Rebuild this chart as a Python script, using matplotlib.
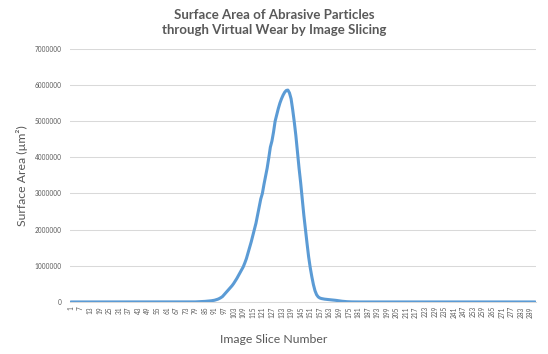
import matplotlib.pyplot as plt
import numpy as np

plt.rcParams['font.family'] = ['Lato', 'DejaVu Sans']

# slice numbers 1..292, surface area (um^2)
n_slices = 292
slices = np.arange(1, n_slices + 1)

# non-zero part of the curve, slices 79..178 (values in thousands of um^2)
first_nonzero = 79
peak_values_k = [
    2, 4, 6, 8, 10, 13, 16, 20, 24, 28,
    33, 40, 48, 60, 75, 95, 120, 150, 200, 250,
    300, 350, 400, 450, 510, 580, 650, 730, 810, 890,
    970, 1080, 1200, 1350, 1500, 1660, 1830, 2000, 2180, 2400,
    2620, 2850, 3000, 3250, 3480, 3700, 3980, 4280, 4450, 4700,
    5000, 5180, 5350, 5500, 5620, 5720, 5800, 5850, 5860, 5780,
    5620, 5320, 4980, 4600, 4150, 3700, 3300, 2850, 2400, 2000,
    1620, 1250, 950, 700, 480, 310, 200, 140, 110, 95,
    85, 78, 72, 68, 64, 60, 55, 50, 45, 38,
    32, 26, 20, 15, 11, 8, 5, 3, 2, 1,
]
area = ([0] * (first_nonzero - 1)
        + [v * 1000 for v in peak_values_k]
        + [0] * (n_slices - (first_nonzero - 1) - len(peak_values_k)))
area = np.array(area)

tick_slices = list(range(1, 290, 6))
y_ticks = [0, 1000000, 2000000, 3000000, 4000000, 5000000, 6000000, 7000000]

TEXT = '#595959'

fig = plt.figure(figsize=(5.48, 3.54), dpi=100)
ax = fig.add_axes([0.128, 0.147, 0.850, 0.715])

ax.plot(slices, area, color='#5B9BD5', lw=2.2, solid_capstyle='round', zorder=3)

ax.set_xlim(0.5, n_slices + 0.5)
ax.set_ylim(0, 7000000)
ax.set_yticks(y_ticks)
ax.set_yticklabels([str(v) for v in y_ticks])
ax.set_xticks(tick_slices)
ax.set_xticklabels([str(v) for v in tick_slices], rotation=90)
ax.tick_params(axis='both', length=0, labelsize=4.7, colors=TEXT)
ax.tick_params(axis='x', pad=3)
ax.tick_params(axis='y', pad=6)

ax.yaxis.grid(True, color='#D9D9D9', lw=0.75)
ax.set_axisbelow(True)
for s in ['top', 'right', 'left']:
    ax.spines[s].set_visible(False)
ax.spines['bottom'].set_color('#D9D9D9')
ax.spines['bottom'].set_linewidth(0.75)

ax.set_ylabel('Surface Area (\u00b5m\u00b2)', fontsize=8.8, color=TEXT)
ax.yaxis.set_label_coords(-0.09, 0.5)
ax.set_xlabel('Image Slice Number', fontsize=8.8, color=TEXT)
ax.xaxis.set_label_coords((0.5 - 0.128) / 0.850, -0.125)

fig.text(0.5, 0.975, 'Surface Area of Abrasive Particles\nthrough Virtual Wear by Image Slicing',
         ha='center', va='top', fontsize=9.5, fontweight='bold', color=TEXT, linespacing=1.35)

fig.savefig('out.png', dpi=100)
